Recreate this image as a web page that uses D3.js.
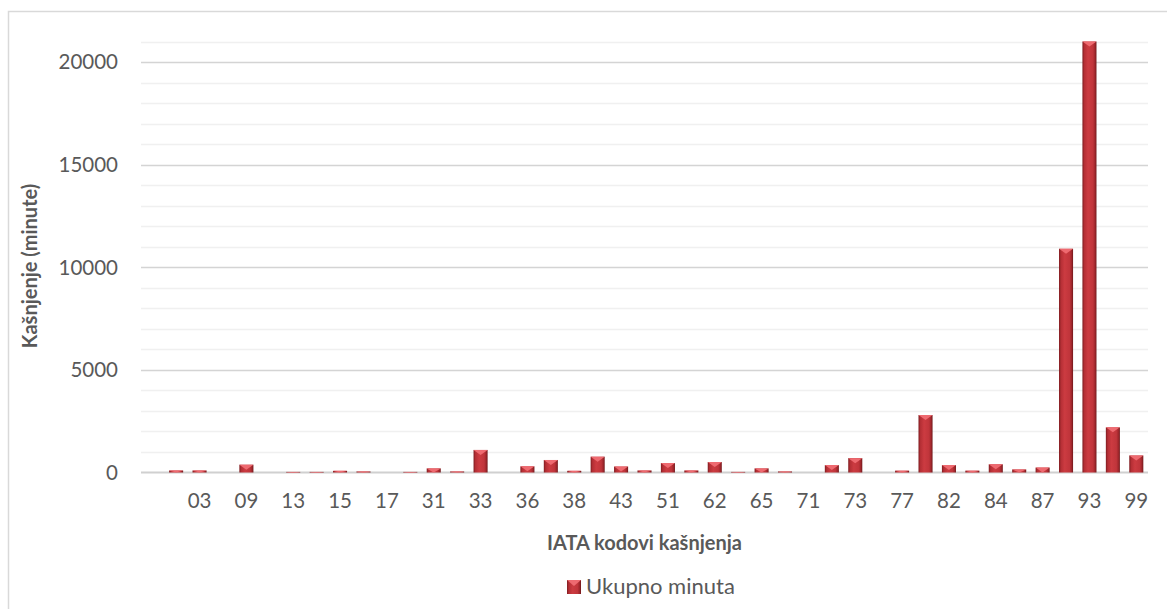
<!DOCTYPE html>
<html>
<head>
<meta charset="utf-8">
<script src="https://cdn.jsdelivr.net/npm/d3@7"></script>
<style>
  body { margin: 0; background: #fff; }
  text { font-family: Lato, "Liberation Sans", sans-serif; fill: #595959; }
</style>
</head>
<body>
<div id="chart"></div>
<script>
// IATA delay codes (only every second one is labelled on the axis)
codes = ["", "01", "03", "06", "09", "11", "13", "14", "15", "16", "17", "18", "31", "32", "33",
         "34", "36", "37", "38", "41", "43", "46", "51", "55", "62", "64", "65", "67", "71", "72",
         "73", "75", "77", "81", "82", "83", "84", "85", "87", "89", "93", "95", "99"]
// total delay minutes per code
minutes = [0, 100, 100, 0, 380, 0, 30, 30, 80, 50, 0, 30, 200, 50, 1100,
           0, 300, 610, 80, 770, 290, 100, 460, 100, 510, 30, 200, 50, 0, 360,
           700, 0, 90, 2800, 360, 90, 400, 150, 240, 10900, 21000, 2200, 830]
yTicks = [0, 5000, 10000, 15000, 20000]
seriesName = "Ukupno minuta"
xTitle = "IATA kodovi kašnjenja"
yTitle = "Kašnjenje (minute)"

width = 1167
height = 609
margin = ({top: 41.5, right: 19, bottom: 136.5, left: 141})

source = codes.map((c, i) => ({code: c, value: minutes[i]}))

x = d3.scaleBand()
  .domain(codes)
  .range([margin.left, width - margin.right])
  .paddingInner(0.4)
  .paddingOuter(0.2)

y = d3.scaleLinear()
  .domain([0, 21000])
  .range([height - margin.bottom, margin.top])

var svg = d3.select("#chart").append("svg")
  .attr("width", width)
  .attr("height", height)

// chart frame (only left and top edges fall inside the picture)
svg.append("rect")
  .attr("x", 8.5).attr("y", 11.5)
  .attr("width", 1200).attr("height", 700)
  .attr("fill", "none")
  .attr("stroke", "#d9d9d9")
  .attr("stroke-width", 1.5)

var defs = svg.append("defs")
var grad = defs.append("linearGradient")
  .attr("id", "barGrad")
  .attr("x1", "0%").attr("x2", "100%").attr("y1", "0%").attr("y2", "0%")
grad.selectAll("stop")
  .data([[0, "#7e1c20"], [0.14, "#b52f35"], [0.4, "#cc3b41"], [0.75, "#c0353b"], [0.9, "#9e262b"], [1, "#6e171a"]])
  .enter().append("stop")
  .attr("offset", d => d[0])
  .attr("stop-color", d => d[1])

// gridlines: minor every 1000, major every 5000
svg.append("g")
  .selectAll("line")
  .data(d3.range(1000, 21001, 1000))
  .enter().append("line")
  .attr("x1", margin.left)
  .attr("x2", width - margin.right)
  .attr("y1", d => Math.round(y(d)) + 0.5)
  .attr("y2", d => Math.round(y(d)) + 0.5)
  .attr("stroke", d => d % 5000 === 0 ? "#d4d4d4" : "#f0f0f0")
  .attr("stroke-width", 1.5)

// baseline
svg.append("line")
  .attr("x1", margin.left)
  .attr("x2", width - margin.right)
  .attr("y1", y(0))
  .attr("y2", y(0))
  .attr("stroke", "#d0d0d0")
  .attr("stroke-width", 2)

// y axis labels
svg.append("g")
  .selectAll("text")
  .data(yTicks)
  .enter().append("text")
  .attr("x", 118)
  .attr("y", d => y(d))
  .attr("dy", "0.36em")
  .attr("text-anchor", "end")
  .style("font-size", "20.5px")
  .text(d => d)

// x axis labels, every second category
var xAxis = d3.axisBottom(x)
  .tickSize(0)
  .tickPadding(21)
  .tickValues(codes.filter((d, i) => i % 2 === 0))
var xg = svg.append("g")
  .attr("transform", `translate(0,${y(0)})`)
  .call(xAxis)
xg.select(".domain").remove()
xg.selectAll("text")
  .style("font-size", "20.5px")
  .style("font-family", "Lato, 'Liberation Sans', sans-serif")
  .attr("fill", "#595959")

// bars
var bar = svg.append("g")
  .selectAll("g")
  .data(source.filter(d => d.value > 0))
  .enter().append("g")

bar.append("rect")
  .attr("x", d => x(d.code))
  .attr("y", d => y(d.value))
  .attr("width", x.bandwidth())
  .attr("height", d => y(0) - y(d.value))
  .attr("fill", "url(#barGrad)")

bar.append("path")
  .attr("d", d => {
    var x0 = x(d.code), w = x.bandwidth(), t = y(d.value)
    var h = Math.min(5, (y(0) - t))
    return `M${x0},${t}L${x0 + w},${t}L${x0 + w / 2},${t + h}Z`
  })
  .attr("fill", "#ee6a70")

// axis titles
svg.append("text")
  .attr("x", (margin.left + width - margin.right) / 2)
  .attr("y", 550)
  .attr("text-anchor", "middle")
  .style("font-size", "20px")
  .style("font-weight", "bold")
  .text(xTitle)

svg.append("text")
  .attr("transform", "translate(37,266) rotate(-90)")
  .attr("text-anchor", "middle")
  .style("font-size", "20px")
  .style("font-weight", "bold")
  .text(yTitle)

// legend
var leg = svg.append("g")
  .attr("transform", "translate(567,580)")
leg.append("rect")
  .attr("width", 14).attr("height", 14)
  .attr("fill", "url(#barGrad)")
leg.append("path")
  .attr("d", "M0,0L14,0L7,6Z")
  .attr("fill", "#ee6a70")
leg.append("text")
  .attr("x", 19)
  .attr("y", 14)
  .style("font-size", "22px")
  .text(seriesName)
</script>
</body>
</html>
